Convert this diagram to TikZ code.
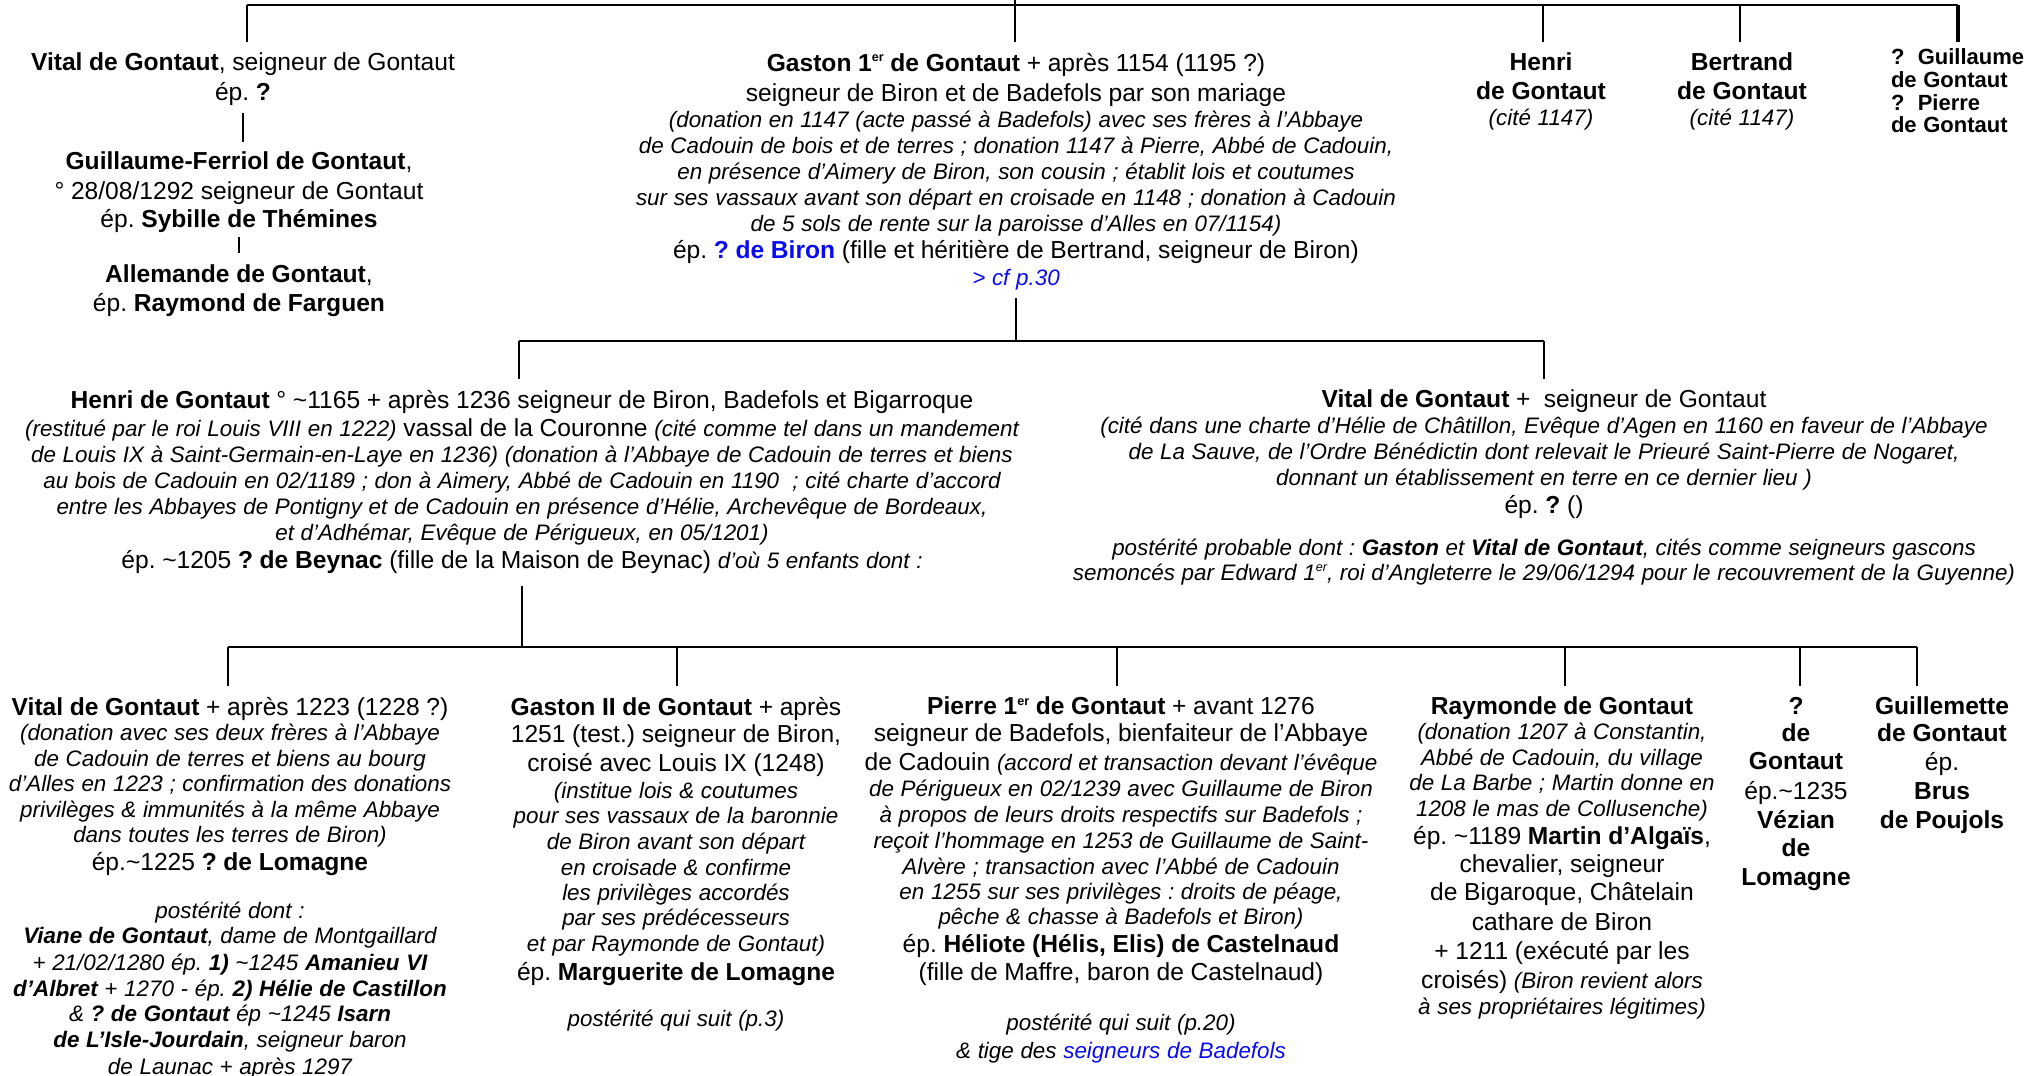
\documentclass[tikz,border=0pt]{standalone}
\usepackage{fontspec}
\setmainfont{Liberation Sans}
\usepackage{xcolor}
\definecolor{lnk}{RGB}{10,10,245}
\setlength{\parindent}{0pt}
\frenchspacing
\newcommand\tld{\textasciitilde}
\newcommand\ML[2][14]{{\fontsize{12.3}{#1}\selectfont #2\par}}
\newcommand\IL[2][13]{{\fontsize{11.2}{#1}\selectfont\itshape #2\par}}
\newcommand\SL[2][11.3]{{\fontsize{11}{#1}\selectfont\bfseries #2\par}}
\newcommand\itx[1]{{\fontsize{11.2}{13}\selectfont\itshape #1}}
\newcommand\supx[1]{\raisebox{0.75ex}{\fontsize{6.3}{6.3}\selectfont #1}}
\tikzset{
  person/.style={inner sep=0pt, outer sep=0pt, anchor=north, align=center},
  conn/.style={line width=1.1pt, draw=black},
  thickconn/.style={line width=1.8pt, draw=black},
  dropline/.style={conn, shorten >=5.5pt}
}
\begin{document}
\frenchspacing
\begin{tikzpicture}[x=0.5pt,y=-0.5pt]
\useasboundingbox (0,0) rectangle (2032,1075);

% ---------- row 1 ----------
\node[person, text width=250pt] (vitalL) at (243,53) {%
\ML{\textbf{Vital de Gontaut}, seigneur de Gontaut}
\ML[15]{ép. \textbf{?}}};
\node[person, text width=250pt] (guilL) at (239,152) {%
\ML{\textbf{Guillaume-Ferriol de Gontaut},}
\ML[15]{° 28/08/1292 seigneur de Gontaut}
\ML[14]{ép. \textbf{Sybille de Thémines}}};
\node[person, text width=250pt] (allemL) at (239,265) {%
\ML{\textbf{Allemande de Gontaut},}
\ML[14.5]{ép. \textbf{Raymond de Farguen}}};

\node[person, text width=420pt] (gaston) at (1016,53) {%
\ML{\textbf{Gaston 1\supx{er} de Gontaut} + après 1154 (1195 ?)}
\ML[15]{seigneur de Biron et de Badefols par son mariage}
\IL{(donation en 1147 (acte passé à Badefols) avec ses frères à l’Abbaye}
\IL{de Cadouin de bois et de terres ; donation 1147 à Pierre, Abbé de Cadouin,}
\IL{en présence d’Aimery de Biron, son cousin ; établit lois et coutumes}
\IL{sur ses vassaux avant son départ en croisade en 1148 ; donation à Cadouin}
\IL{de 5 sols de rente sur la paroisse d’Alles en 07/1154)}
\ML[13.5]{ép. \textcolor{lnk}{\textbf{? de Biron}} (fille et héritière de Bertrand, seigneur de Biron)}
\IL[13.5]{\textcolor{lnk}{> cf p.30}}};

\node[person, text width=110pt] (henriT) at (1541,53) {%
\ML{\textbf{Henri}}
\ML[14.5]{\textbf{de Gontaut}}
\IL{(cité 1147)}};
\node[person, text width=110pt] (bertT) at (1742,53) {%
\ML{\textbf{Bertrand}}
\ML[14.5]{\textbf{de Gontaut}}
\IL{(cité 1147)}};
\node[person, anchor=north west, align=left, text width=72pt] (qG) at (1891,49) {%
\SL{?\ \ Guillaume}
\SL{de Gontaut}
\SL{?\ \ Pierre}
\SL{de Gontaut}};

% top bus
\coordinate (t0) at (1015,0);
\coordinate (t1) at (1015,5);
\coordinate (tA) at (247,5);
\coordinate (tC) at (1543,5);
\coordinate (tD) at (1740,5);
\coordinate (tE) at (1958,5);
\draw[conn] (t0) -- (t1);
\draw[conn] (tA) -- (tE);
\draw[dropline] (tA) -- (tA |- vitalL.north);
\draw[dropline] (t1) -- (t1 |- gaston.north);
\draw[dropline] (tC) -- (tC |- henriT.north);
\draw[dropline] (tD) -- (tD |- bertT.north);
\draw[thickconn, shorten >=3.5pt] (tE) -- (tE |- qG.north);

\draw[conn, shorten <=3.5pt, shorten >=5pt] (vitalL.south) -- (vitalL.south |- guilL.north);
\draw[conn, shorten <=2pt, shorten >=6pt] (guilL.south) -- (guilL.south |- allemL.north);

% ---------- row 2 ----------
\node[person, text width=570pt] (henri) at (522,390) {%
\ML{\textbf{Henri de Gontaut} ° \tld1165 + après 1236 seigneur de Biron, Badefols et Bigarroque}
\ML[14]{\itx{(restitué par le roi Louis VIII en 1222)} vassal de la Couronne \itx{(cité comme tel dans un mandement}}
\IL{de Louis IX à Saint-Germain-en-Laye en 1236) (donation à l’Abbaye de Cadouin de terres et biens}
\IL{au bois de Cadouin en 02/1189 ; don à Aimery, Abbé de Cadouin en 1190\ \ ; cité charte d’accord}
\IL{entre les Abbayes de Pontigny et de Cadouin en présence d’Hélie, Archevêque de Bordeaux,}
\IL{et d’Adhémar, Evêque de Périgueux, en 05/1201)}
\ML[14]{ép. \tld1205 \textbf{? de Beynac} (fille de la Maison de Beynac) \itx{d’où 5 enfants dont :}}};

\node[person, text width=520pt] (vitalR) at (1544,390) {%
\ML{\textbf{Vital de Gontaut} +\ \ seigneur de Gontaut}
\IL{(cité dans une charte d’Hélie de Châtillon, Evêque d’Agen en 1160 en faveur de l’Abbaye}
\IL{de La Sauve, de l’Ordre Bénédictin dont relevait le Prieuré Saint-Pierre de Nogaret,}
\IL{donnant un établissement en terre en ce dernier lieu )}
\ML[14]{ép. \textbf{?} ()}
\IL[21]{postérité probable dont : \textbf{Gaston} et \textbf{Vital de Gontaut}, cités comme seigneurs gascons}
\IL[12.5]{semoncés par Edward 1\supx{er}, roi d’Angleterre le 29/06/1294 pour le recouvrement de la Guyenne)}};

\coordinate (bL) at (519,341);
\coordinate (bR) at (1544,341);
\draw[conn, shorten <=4pt] (gaston.south) -- (gaston.south |- bL);
\draw[conn] (bL) -- (bR);
\draw[dropline] (bL) -- (bL |- henri.north);
\draw[dropline] (bR) -- (bR |- vitalR.north);

% ---------- row 3 ----------
\node[person, text width=250pt] (vitalB) at (230,697) {%
\ML{\textbf{Vital de Gontaut} + après 1223 (1228 ?)}
\IL[12.5]{(donation avec ses deux frères à l’Abbaye}
\IL{de Cadouin de terres et biens au bourg}
\IL[12.75]{d’Alles en 1223 ; confirmation des donations}
\IL[12.75]{privilèges \& immunités à la même Abbaye}
\IL[12.75]{dans toutes les terres de Biron)}
\ML[14]{ép.\tld1225 \textbf{? de Lomagne}}
\IL[24]{postérité dont :}
\IL[12.5]{\textbf{Viane de Gontaut}, dame de Montgaillard}
\IL[13.5]{+ 21/02/1280 ép. \textbf{1)} \tld1245 \textbf{Amanieu VI}}
\IL[12.75]{\textbf{d’Albret} + 1270 - ép. \textbf{2) Hélie de Castillon}}
\IL[12.75]{\& \textbf{? de Gontaut} ép \tld1245 \textbf{Isarn}}
\IL[12.75]{\textbf{de L’Isle-Jourdain}, seigneur baron}
\IL[13.5]{de Launac + après 1297}};

\node[person, text width=195pt] (gaston2) at (676,697) {%
\ML{\textbf{Gaston II de Gontaut} + après}
\ML[13.5]{1251 (test.) seigneur de Biron,}
\ML[14.5]{croisé avec Louis IX (1248)}
\IL[13.5]{(institue lois \& coutumes}
\IL[12.5]{pour ses vassaux de la baronnie}
\IL{de Biron avant son départ}
\IL{en croisade \& confirme}
\IL[12.5]{les privilèges accordés}
\IL[12.5]{par ses prédécesseurs}
\IL{et par Raymonde de Gontaut)}
\ML[14.5]{ép. \textbf{Marguerite de Lomagne}}
\IL[23]{postérité qui suit (p.3)}};

\node[person, text width=300pt] (pierre) at (1121,697) {%
\ML{\textbf{Pierre 1\supx{er} de Gontaut} + avant 1276}
\ML[13.5]{seigneur de Badefols, bienfaiteur de l’Abbaye}
\ML[14.5]{de Cadouin \itx{(accord et transaction devant l’évêque}}
\IL{de Périgueux en 02/1239 avec Guillaume de Biron}
\IL{à propos de leurs droits respectifs sur Badefols ;}
\IL{reçoit l’hommage en 1253 de Guillaume de Saint-}
\IL{Alvère ; transaction avec l’Abbé de Cadouin}
\IL[12.5]{en 1255 sur ses privilèges : droits de péage,}
\IL[12.5]{pêche \& chasse à Badefols et Biron)}
\ML[14]{ép. \textbf{Héliote (Hélis, Elis) de Castelnaud}}
\ML[14]{(fille de Maffre, baron de Castelnaud)}
\IL[25]{postérité qui suit (p.20)}
\IL[14]{\& tige des \textcolor{lnk}{seigneurs de Badefols}}};

\node[person, text width=190pt] (raym) at (1562,697) {%
\ML{\textbf{Raymonde de Gontaut}}
\IL[12.5]{(donation 1207 à Constantin,}
\IL{Abbé de Cadouin, du village}
\IL[12.5]{de La Barbe ; Martin donne en}
\IL{1208 le mas de Collusenche)}
\ML[14]{ép. \tld1189 \textbf{Martin d’Algaïs},}
\ML[14]{chevalier, seigneur}
\ML[14]{de Bigaroque, Châtelain}
\ML[15]{cathare de Biron}
\ML[14.5]{+ 1211 (exécuté par les}
\ML[14.5]{croisés) \itx{(Biron revient alors}}
\IL{à ses propriétaires légitimes)}};

\node[person, text width=62pt] (qB) at (1796,697) {%
\ML{\textbf{?}}
\ML[13.5]{\textbf{de}}
\ML{\textbf{Gontaut}}
\ML[15]{ép.\tld1235}
\ML[14.5]{\textbf{Vézian}}
\ML{\textbf{de}}
\ML[14.5]{\textbf{Lomagne}}};

\node[person, text width=75pt] (guilB) at (1942,697) {%
\ML{\textbf{Guillemette}}
\ML[13.5]{\textbf{de Gontaut}}
\ML[14.5]{ép.}
\ML[14.5]{\textbf{Brus}}
\ML[14.5]{\textbf{de Poujols}}};

\coordinate (b3a) at (228,647);
\coordinate (b3b) at (677,647);
\coordinate (b3c) at (1117,647);
\coordinate (b3d) at (1565,647);
\coordinate (b3e) at (1800,647);
\coordinate (b3f) at (1917,647);
\draw[conn, shorten <=6.5pt] (henri.south) -- (henri.south |- b3a);
\draw[conn] (b3a) -- (b3f);
\draw[dropline] (b3a) -- (b3a |- vitalB.north);
\draw[dropline] (b3b) -- (b3b |- gaston2.north);
\draw[dropline] (b3c) -- (b3c |- pierre.north);
\draw[dropline] (b3d) -- (b3d |- raym.north);
\draw[dropline] (b3e) -- (b3e |- qB.north);
\draw[dropline] (b3f) -- (b3f |- guilB.north);
\end{tikzpicture}
\end{document}
